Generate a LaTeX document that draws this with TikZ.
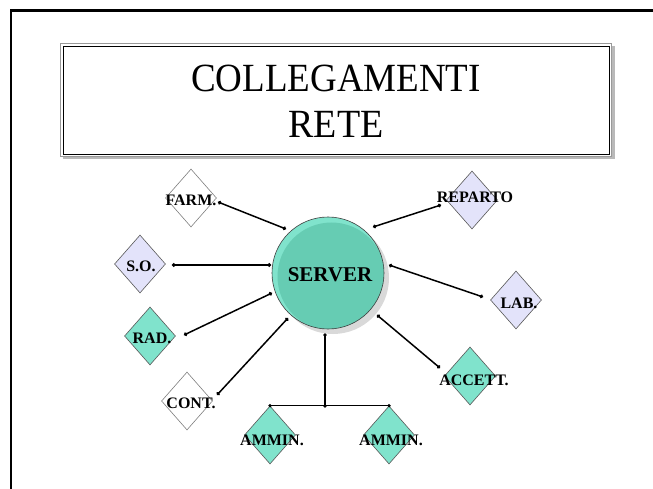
\documentclass[tikz,border=0pt]{standalone}
\usepackage{fontspec}
\setmainfont{Liberation Serif}
\usetikzlibrary{shapes.geometric,arrows.meta}
\definecolor{tealA}{HTML}{66CCB3}
\definecolor{tealB}{HTML}{80E3CC}
\definecolor{lavA}{HTML}{E3E3FA}
\begin{document}
\begin{tikzpicture}[x=1pt,y=-1pt,
  dnode/.style={shape=diamond,draw=gray!70!black,line width=0.6pt,minimum width=51pt,minimum height=58pt,inner sep=0pt},
  wdia/.style={dnode,fill=white,draw=gray},
  ldia/.style={dnode,fill=lavA},
  tdia/.style={dnode,fill=tealB},
  lbl/.style={font=\fontsize{16}{18}\selectfont\bfseries,inner sep=0pt},
  conn/.style={line width=1.5pt,{Circle[length=3.6pt]}-{Circle[length=3.6pt]}},
  tree/.style={line width=1.5pt},
  dotc/.style={circle,fill=black,inner sep=0pt,minimum size=3.6pt}
]
\useasboundingbox (0,0) rectangle (653,489);
\fill[white] (0,0) rectangle (653,489);
% frame
\draw[line width=2.6pt] (653,10.8) -- (10.8,10.8) -- (10.8,489);
% title box
\fill[gray!55] (63,46) rectangle (614.5,159.5);
\node[draw=gray!80,fill=white,line width=1pt,minimum width=551pt,minimum height=113pt,inner sep=0pt] (titlebox) at (336,100) {};
\draw[line width=0.8pt] (63,46) rectangle (609,154);
\node[anchor=base,font=\fontsize{40}{46}\selectfont,inner sep=0pt] (t1) at (336,92) {\scalebox{0.925}[1]{COLLEGAMENTI}};
\node[anchor=base,font=\fontsize{40}{46}\selectfont,inner sep=0pt] (t2) at (336,138) {\scalebox{0.95}[1]{RETE}};
% server
\fill[gray!30] (333,278) circle (56);
\node[circle,minimum size=112pt,inner sep=0pt,draw=gray!50!black,line width=0.6pt,
  path picture={\fill[tealB] (path picture bounding box.north west) rectangle (path picture bounding box.south east);
                \fill[tealA] ([xshift=3.5pt,yshift=-3.5pt]path picture bounding box.center) circle (54pt);}] (server) at (328,273) {};
\node[font=\fontsize{21}{23}\selectfont\bfseries,inner sep=0pt] (servT) at (330,275) {SERVER};
% diamonds
\node[wdia] (farm) at (191,198) {};
\node[lbl] (farmT) at (191,200) {FARM.};
\node[ldia] (so) at (140,264) {};
\node[lbl] (soT) at (141,266) {S.O.};
\node[tdia] (rad) at (150,336) {};
\node[lbl] (radT) at (152,338) {RAD.};
\node[wdia] (cont) at (187,401) {};
\node[lbl] (contT) at (191,403) {CONT.};
\node[tdia] (amm1) at (270,435) {};
\node[lbl] (amm1T) at (272,440) {AMMIN.};
\node[tdia] (amm2) at (389,435) {};
\node[lbl] (amm2T) at (391,440) {AMMIN.};
\node[tdia] (acc) at (470,376) {};
\node[lbl] (accT) at (474,380) {ACCETT.};
\node[ldia] (lab) at (516,300) {};
\node[lbl] (labT) at (519,303) {LAB.};
\node[ldia] (rep) at (472,200) {};
\node[lbl] (repT) at (475,197) {REPARTO};
% connector end points
\coordinate (farmA) at (218,202); \coordinate (farmB) at (286,229);
\coordinate (soA) at (172,265);   \coordinate (soB) at (271,265);
\coordinate (radA) at (184,335);  \coordinate (radB) at (272,293);
\coordinate (contA) at (217,395); \coordinate (contB) at (288,318);
\coordinate (accA) at (440,368);  \coordinate (accB) at (377,315);
\coordinate (labA) at (483,297);  \coordinate (labB) at (389,265);
\coordinate (repA) at (441,205);  \coordinate (repB) at (373,227);
\coordinate (srvS) at (325,335);  \coordinate (junc) at (325,406);
\draw[conn] (farmA) -- (farmB);
\draw[conn] (soA) -- (soB);
\draw[conn] (radA) -- (radB);
\draw[conn] (contA) -- (contB);
\draw[conn] (accA) -- (accB);
\draw[conn] (labA) -- (labB);
\draw[conn] (repA) -- (repB);
\draw[tree] (amm1.north) -- (amm2.north);
\draw[tree] (junc) -- (srvS);
\node[dotc] (d1) at (amm1.north) {};
\node[dotc] (d2) at (amm2.north) {};
\node[dotc] (d3) at (junc) {};
\node[dotc] (d4) at (srvS) {};
\end{tikzpicture}
\end{document}
